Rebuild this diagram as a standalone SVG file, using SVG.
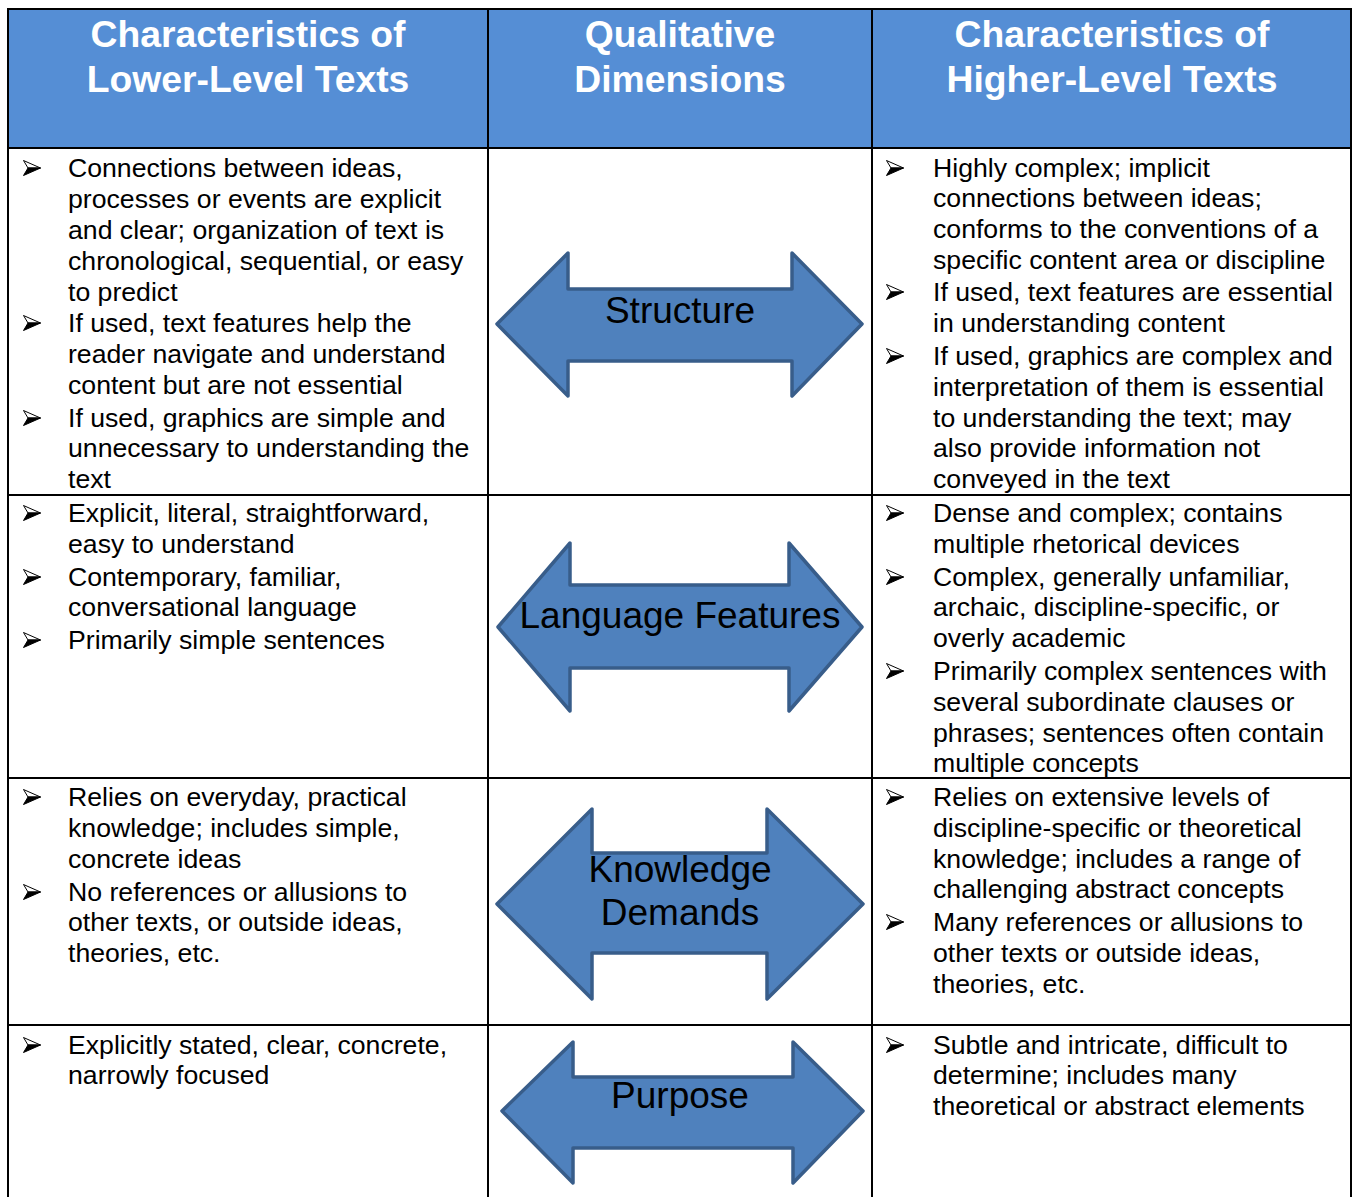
<svg xmlns="http://www.w3.org/2000/svg" xmlns:xlink="http://www.w3.org/1999/xlink" width="1354" height="1197" viewBox="0 0 1354 1197">
<style>
.hd{font-family:"Liberation Sans",Arial,sans-serif;font-weight:bold;font-size:37.3px;fill:#ffffff;text-anchor:middle}
.tx{font-family:"Liberation Sans",Arial,sans-serif;font-size:26.65px;fill:#000000}
.al{font-family:"Liberation Sans",Arial,sans-serif;font-size:37px;fill:#000000;text-anchor:middle}
.arr{fill:#4F81BD;stroke:#385D8A;stroke-width:3.5;stroke-linejoin:round}
.grid{stroke:#000000;stroke-width:2;fill:none}
</style>
<defs>
<symbol id="bl" viewBox="0 0 18 16">
<polygon points="0.5,0.5 17.5,8 5,8" fill="#ffffff" stroke="#000000" stroke-width="1" stroke-linejoin="miter"/>
<polygon points="5,8 17.5,8 0.5,15.5" fill="#000000" stroke="#000000" stroke-width="1"/>
</symbol>
</defs>
<rect width="1354" height="1197" fill="#ffffff"/>
<g id="header">
<rect x="8" y="9" width="1343" height="139" fill="#558ED5"/>
<text class="hd" x="248" y="47">Characteristics of</text>
<text class="hd" x="248" y="92">Lower-Level Texts</text>
<text class="hd" x="680" y="47">Qualitative</text>
<text class="hd" x="680" y="92">Dimensions</text>
<text class="hd" x="1112" y="47">Characteristics of</text>
<text class="hd" x="1112" y="92">Higher-Level Texts</text>
</g>
<g id="grid" class="grid">
<rect x="8" y="9" width="1343" height="1200"/>
<line x1="8" y1="148" x2="1351" y2="148"/>
<line x1="8" y1="495" x2="1351" y2="495"/>
<line x1="8" y1="778" x2="1351" y2="778"/>
<line x1="8" y1="1025" x2="1351" y2="1025"/>
<line x1="488" y1="9" x2="488" y2="1197"/>
<line x1="872" y1="9" x2="872" y2="1197"/>
</g>
<g id="row-structure">
<g id="structure-low">
<use href="#bl" x="23" y="160" width="18" height="16"/>
<use href="#bl" x="23" y="315" width="18" height="16"/>
<use href="#bl" x="23" y="410" width="18" height="16"/>
<text class="tx" x="68" y="177">Connections between ideas,</text>
<text class="tx" x="68" y="208">processes or events are explicit</text>
<text class="tx" x="68" y="239">and clear; organization of text is</text>
<text class="tx" x="68" y="270">chronological, sequential, or easy</text>
<text class="tx" x="68" y="301">to predict</text>
<text class="tx" x="68" y="332">If used, text features help the</text>
<text class="tx" x="68" y="363">reader navigate and understand</text>
<text class="tx" x="68" y="394">content but are not essential</text>
<text class="tx" x="68" y="427">If used, graphics are simple and</text>
<text class="tx" x="68" y="457">unnecessary to understanding the</text>
<text class="tx" x="68" y="488">text</text>
</g>
<g id="structure-arrow">
<polygon class="arr" points="497,324 568,253 568,289 792,289 792,253 862,324 792,396 792,361 568,361 568,396"/>
<text class="al" x="680" y="323">Structure</text>
</g>
<g id="structure-high">
<use href="#bl" x="886" y="160" width="18" height="16"/>
<use href="#bl" x="886" y="284" width="18" height="16"/>
<use href="#bl" x="886" y="348" width="18" height="16"/>
<text class="tx" x="933" y="177">Highly complex; implicit</text>
<text class="tx" x="933" y="207">connections between ideas;</text>
<text class="tx" x="933" y="238">conforms to the conventions of a</text>
<text class="tx" x="933" y="269">specific content area or discipline</text>
<text class="tx" x="933" y="301">If used, text features are essential</text>
<text class="tx" x="933" y="332">in understanding content</text>
<text class="tx" x="933" y="365">If used, graphics are complex and</text>
<text class="tx" x="933" y="396">interpretation of them is essential</text>
<text class="tx" x="933" y="427">to understanding the text; may</text>
<text class="tx" x="933" y="457">also provide information not</text>
<text class="tx" x="933" y="488">conveyed in the text</text>
</g>
</g>
<g id="row-language">
<g id="language-low">
<use href="#bl" x="23" y="505" width="18" height="16"/>
<use href="#bl" x="23" y="569" width="18" height="16"/>
<use href="#bl" x="23" y="632" width="18" height="16"/>
<text class="tx" x="68" y="522">Explicit, literal, straightforward,</text>
<text class="tx" x="68" y="553">easy to understand</text>
<text class="tx" x="68" y="586">Contemporary, familiar,</text>
<text class="tx" x="68" y="616">conversational language</text>
<text class="tx" x="68" y="649">Primarily simple sentences</text>
</g>
<g id="language-arrow">
<polygon class="arr" points="498,627 570,543 570,585 789,585 789,543 862,627 789,711 789,668 570,668 570,711"/>
<text class="al" x="680" y="628">Language Features</text>
</g>
<g id="language-high">
<use href="#bl" x="886" y="505" width="18" height="16"/>
<use href="#bl" x="886" y="569" width="18" height="16"/>
<use href="#bl" x="886" y="663" width="18" height="16"/>
<text class="tx" x="933" y="522">Dense and complex; contains</text>
<text class="tx" x="933" y="553">multiple rhetorical devices</text>
<text class="tx" x="933" y="586">Complex, generally unfamiliar,</text>
<text class="tx" x="933" y="616">archaic, discipline-specific, or</text>
<text class="tx" x="933" y="647">overly academic</text>
<text class="tx" x="933" y="680">Primarily complex sentences with</text>
<text class="tx" x="933" y="711">several subordinate clauses or</text>
<text class="tx" x="933" y="742">phrases; sentences often contain</text>
<text class="tx" x="933" y="772">multiple concepts</text>
</g>
</g>
<g id="row-knowledge">
<g id="knowledge-low">
<use href="#bl" x="23" y="789" width="18" height="16"/>
<use href="#bl" x="23" y="884" width="18" height="16"/>
<text class="tx" x="68" y="806">Relies on everyday, practical</text>
<text class="tx" x="68" y="837">knowledge; includes simple,</text>
<text class="tx" x="68" y="868">concrete ideas</text>
<text class="tx" x="68" y="901">No references or allusions to</text>
<text class="tx" x="68" y="931">other texts, or outside ideas,</text>
<text class="tx" x="68" y="962">theories, etc.</text>
</g>
<g id="knowledge-arrow">
<polygon class="arr" points="497,904 592,809 592,853 767,853 767,809 863,904 767,999 767,953 592,953 592,999"/>
<text class="al" x="680" y="882">Knowledge</text>
<text class="al" x="680" y="925">Demands</text>
</g>
<g id="knowledge-high">
<use href="#bl" x="886" y="789" width="18" height="16"/>
<use href="#bl" x="886" y="914" width="18" height="16"/>
<text class="tx" x="933" y="806">Relies on extensive levels of</text>
<text class="tx" x="933" y="837">discipline-specific or theoretical</text>
<text class="tx" x="933" y="868">knowledge; includes a range of</text>
<text class="tx" x="933" y="898">challenging abstract concepts</text>
<text class="tx" x="933" y="931">Many references or allusions to</text>
<text class="tx" x="933" y="962">other texts or outside ideas,</text>
<text class="tx" x="933" y="993">theories, etc.</text>
</g>
</g>
<g id="row-purpose">
<g id="purpose-low">
<use href="#bl" x="23" y="1037" width="18" height="16"/>
<text class="tx" x="68" y="1054">Explicitly stated, clear, concrete,</text>
<text class="tx" x="68" y="1084">narrowly focused</text>
</g>
<g id="purpose-arrow">
<polygon class="arr" points="502,1111 573,1042 573,1077 793,1077 793,1042 863,1111 793,1183 793,1148 573,1148 573,1183"/>
<text class="al" x="680" y="1108">Purpose</text>
</g>
<g id="purpose-high">
<use href="#bl" x="886" y="1037" width="18" height="16"/>
<text class="tx" x="933" y="1054">Subtle and intricate, difficult to</text>
<text class="tx" x="933" y="1084">determine; includes many</text>
<text class="tx" x="933" y="1115">theoretical or abstract elements</text>
</g>
</g>
</svg>
